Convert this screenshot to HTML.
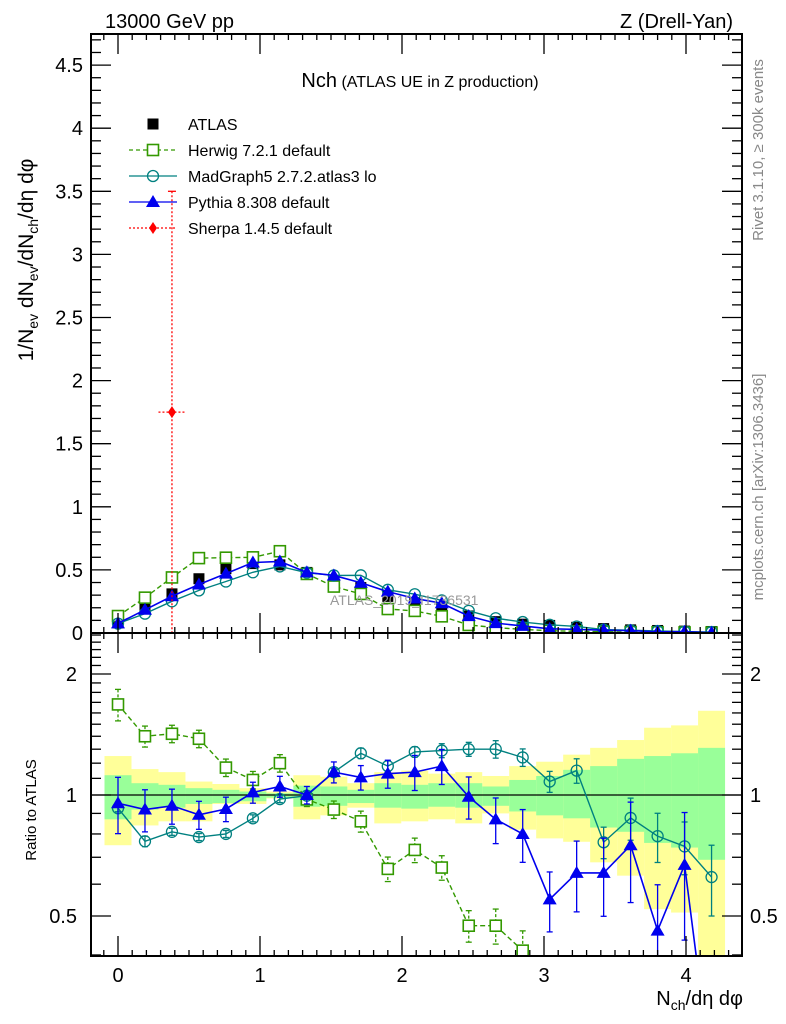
<!DOCTYPE html>
<html><head><meta charset="utf-8">
<style>
html,body{margin:0;padding:0;background:#fff;width:786px;height:1024px;overflow:hidden;}
svg{display:block;font-family:"Liberation Sans",sans-serif;}
</style></head>
<body>
<svg id="chart" width="786" height="1024" viewBox="0 0 786 1024" xmlns="http://www.w3.org/2000/svg">
<g id="bands"></g>
<g id="marks"></g>
<g id="axes"></g>
<text x="105" y="28" font-size="20">13000 GeV pp</text>
<text x="733" y="28" font-size="20" text-anchor="end">Z (Drell-Yan)</text>
<text x="420" y="87" text-anchor="middle"><tspan font-size="20">Nch</tspan><tspan font-size="16"> (ATLAS UE in Z production)</tspan></text>
<text x="330" y="605" font-size="14" fill="#999">ATLAS_2019_I1736531</text>
<text transform="translate(763,150) rotate(-90)" font-size="15" fill="#888" text-anchor="middle">Rivet 3.1.10, ≥ 300k events</text>
<text transform="translate(763,487) rotate(-90)" font-size="15" fill="#888" text-anchor="middle">mcplots.cern.ch [arXiv:1306.3436]</text>
<text transform="translate(33,260) rotate(-90)" font-size="21" text-anchor="middle">1/N<tspan font-size="14" dy="5">ev</tspan><tspan dy="-5"> dN</tspan><tspan font-size="14" dy="5">ev</tspan><tspan dy="-5">/dN</tspan><tspan font-size="14" dy="5">ch</tspan><tspan dy="-5">/dη dφ</tspan></text>
<text transform="translate(36,810) rotate(-90)" font-size="15" text-anchor="middle">Ratio to ATLAS</text>
<text x="743" y="1005" font-size="20" text-anchor="end">N<tspan font-size="14" dy="5">ch</tspan><tspan dy="-5">/dη dφ</tspan></text>
<g id="legend"></g>
</svg>
<script>
const xs = [0,0.19,0.38,0.57,0.76,0.95,1.14,1.33,1.52,1.71,1.90,2.09,2.28,2.47,2.66,2.85,3.04,3.23,3.42,3.61,3.80,3.99,4.18];
const atlas = [0.08,0.20,0.31,0.43,0.51,0.55,0.54,0.48,0.40,0.36,0.29,0.24,0.20,0.135,0.09,0.07,0.06,0.045,0.035,0.025,0.02,0.015,0.012];
const herwigRatio = [1.68,1.40,1.42,1.38,1.17,1.09,1.20,0.975,0.92,0.86,0.655,0.73,0.66,0.473,0.473,0.41,0.3,0.3,0.3,0.3,0.3,0.3,0.3];
const herwigErr = [0.09,0.06,0.05,0.05,0.05,0.05,0.05,0.04,0.05,0.06,0.07,0.07,0.07,0.09,0.1,0.12,0.1,0.1,0.1,0.1,0.1,0.1,0.1];
const madgraphRatio = [0.927,0.767,0.81,0.786,0.80,0.875,0.977,0.996,1.14,1.27,1.18,1.28,1.29,1.30,1.30,1.24,1.08,1.15,0.763,0.877,0.79,0.745,0.625];
const madgraphErr = [0.02,0.03,0.02,0.02,0.02,0.02,0.02,0.02,0.02,0.03,0.03,0.03,0.04,0.04,0.05,0.05,0.06,0.07,0.09,0.12,0.14,0.15,0.2];
const pythiaRatio = [0.954,0.92,0.94,0.893,0.923,1.015,1.05,1.0,1.14,1.106,1.13,1.14,1.18,0.99,0.87,0.80,0.55,0.64,0.64,0.75,0.46,0.67,0.2];
const pythiaErr = [0.16,0.12,0.1,0.08,0.07,0.06,0.06,0.05,0.06,0.07,0.08,0.1,0.1,0.12,0.13,0.15,0.17,0.2,0.22,0.28,0.3,0.35,0.3];
const yellowHi = [1.25,1.16,1.14,1.08,1.065,1.04,1.02,1.12,1.11,1.07,1.14,1.15,1.13,1.14,1.115,1.18,1.21,1.26,1.31,1.37,1.47,1.49,1.62];
const yellowLo = [0.75,0.84,0.86,0.86,0.95,0.95,0.98,0.87,0.89,0.93,0.85,0.86,0.87,0.85,0.9,0.82,0.78,0.765,0.68,0.63,0.52,0.51,0.33];
const greenHi = [1.12,1.07,1.06,1.04,1.03,1.02,1.01,1.055,1.05,1.03,1.07,1.06,1.07,1.07,1.05,1.09,1.115,1.155,1.18,1.23,1.25,1.27,1.31];
const greenLo = [0.87,0.92,0.93,0.95,0.955,0.965,0.985,0.935,0.94,0.955,0.93,0.925,0.935,0.93,0.94,0.91,0.89,0.875,0.83,0.81,0.76,0.74,0.69];
const sherpaX = [0.38];
const sherpaY = [1.75];
const sherpaErrHi = [3.5];
const sherpaErrLo = [0];
const mainTicks = [0,0.5,1,1.5,2,2.5,3,3.5,4,4.5];
const mainTickLabels = ["0","0.5","1","1.5","2","2.5","3","3.5","4","4.5"];
const xTicks = [0,1,2,3,4];
const xTickLabels = ["0","1","2","3","4"];
const ratioTicks = [0.5,1,2];
const ratioTickLabels = ["0.5","1","2"];

const L=91,R=742,T=34,MB=633,RB=956;
const X0=118,XS=142;
const sx=v=>X0+v*XS;
const sy=v=>MB-v*126.2;
const sr=v=>795-Math.log10(v)*402;
const NS="http://www.w3.org/2000/svg";
function mk(parent,tag,attrs){const e=document.createElementNS(NS,tag);for(const k in attrs)e.setAttribute(k,attrs[k]);parent.appendChild(e);return e;}
const bands=document.getElementById('bands'),marks=document.getElementById('marks'),axes=document.getElementById('axes');

const defs=mk(document.getElementById('chart'),'defs',{});
const c1=mk(defs,'clipPath',{id:'cmain'});mk(c1,'rect',{x:L,y:T,width:R-L,height:MB-T});
const c2=mk(defs,'clipPath',{id:'cratio'});mk(c2,'rect',{x:L,y:MB,width:R-L,height:RB-MB});
bands.setAttribute('clip-path','url(#cratio)');
const hw=0.095;
for(let i=0;i<xs.length;i++){
  const a=mk(bands,'rect',{x:sx(xs[i]-hw),y:sr(yellowHi[i]),width:hw*2*XS,height:sr(yellowLo[i])-sr(yellowHi[i]),fill:'#ffff99'});
  
  
}
for(let i=0;i<xs.length;i++){
  const a=mk(bands,'rect',{x:sx(xs[i]-hw),y:sr(greenHi[i]),width:hw*2*XS,height:sr(greenLo[i])-sr(greenHi[i]),fill:'#99ff99'});
  
  
}
mk(bands,'line',{x1:L,x2:R,y1:sr(1),y2:sr(1),stroke:'#000','stroke-width':1.3});

function marker(g,type,cx,cy,color){
  if(type==='sq') return mk(g,'rect',{x:cx-5.5,y:cy-5.5,width:11,height:11,fill:'#fff',stroke:color,'stroke-width':1.6});
  if(type==='circ') return mk(g,'circle',{cx:cx,cy:cy,r:5.5,fill:'none',stroke:color,'stroke-width':1.3});
  if(type==='tri') return mk(g,'polygon',{points:`${cx},${cy-7} ${cx-7},${cy+5} ${cx+7},${cy+5}`,fill:color});
  if(type==='box') return mk(g,'rect',{x:cx-5.5,y:cy-5.5,width:11,height:11,fill:color});
  if(type==='dia') return mk(g,'polygon',{points:`${cx},${cy-6} ${cx+4},${cy} ${cx},${cy+6} ${cx-4},${cy}`,fill:color});
}
function series(name,ratio,err,color,type,dash,sw){
  const gm=mk(marks,'g',{'clip-path':'url(#cmain)'});
  
  
  const gr=mk(marks,'g',{'clip-path':'url(#cratio)'});
  
  
  const pm=xs.map((x,i)=>sx(x)+','+sy(atlas[i]*ratio[i])).join(' ');
  const pr=xs.map((x,i)=>sx(x)+','+sr(ratio[i])).join(' ');
  const st={fill:'none',stroke:color,'stroke-width':sw};if(dash)st['stroke-dasharray']=dash;
  mk(gm,'polyline',Object.assign({points:pm},st));
  mk(gr,'polyline',Object.assign({points:pr},st));
  for(let i=0;i<xs.length;i++){
    const cx=sx(xs[i]);
    const hi=sr(ratio[i]*(1+err[i])),lo=sr(Math.max(0.01,ratio[i]*(1-err[i])));
    const es={stroke:color,'stroke-width':1.3};if(dash)es['stroke-dasharray']='3,2';
    mk(gr,'line',Object.assign({x1:cx,x2:cx,y1:hi,y2:lo},es));
    mk(gr,'line',{x1:cx-3,x2:cx+3,y1:hi,y2:hi,stroke:color,'stroke-width':1.3});
    mk(gr,'line',{x1:cx-3,x2:cx+3,y1:lo,y2:lo,stroke:color,'stroke-width':1.3});
    const m1=marker(gm,type,cx,sy(atlas[i]*ratio[i]),color);
    
    
    const m2=marker(gr,type,cx,sr(ratio[i]),color);
    
    
  }
}
const ga=mk(marks,'g',{'clip-path':'url(#cmain)'});


for(let i=0;i<xs.length;i++){
  const p=marker(ga,'box',sx(xs[i]),sy(atlas[i]),'#000');
  
  
}
series('herwig',herwigRatio,herwigErr,'#339900','sq','5,3',1.4);
series('madgraph',madgraphRatio,madgraphErr,'#008080','circ',null,1.4);
series('pythia',pythiaRatio,pythiaErr,'#0000ee','tri',null,1.6);
const gs=mk(marks,'g',{'clip-path':'url(#cmain)'});


for(let i=0;i<sherpaX.length;i++){
  const cx=sx(sherpaX[i]),cy=sy(sherpaY[i]);
  mk(gs,'line',{x1:cx,x2:cx,y1:sy(sherpaErrHi[i]),y2:sy(sherpaErrLo[i]),stroke:'#ff0000','stroke-width':1.3,'stroke-dasharray':'2,2'});
  mk(gs,'line',{x1:cx-4,x2:cx+4,y1:sy(sherpaErrHi[i]),y2:sy(sherpaErrHi[i]),stroke:'#ff0000','stroke-width':1.3});
  mk(gs,'line',{x1:sx(sherpaX[i]-hw),x2:sx(sherpaX[i]+hw),y1:cy,y2:cy,stroke:'#ff0000','stroke-width':1.3,'stroke-dasharray':'2,2'});
  const d=marker(gs,'dia',cx,cy,'#ff0000');
  
  
}

mk(axes,'rect',{x:L,y:T,width:R-L,height:MB-T,fill:'none',stroke:'#000','stroke-width':2});
mk(axes,'rect',{x:L,y:MB,width:R-L,height:RB-MB,fill:'none',stroke:'#000','stroke-width':2});
for(let k=-2;k<=44;k++){
  const v=k/10,x=sx(v);if(x<L+1||x>R-1)continue;
  const major=(k%10===0);const len=major?20:6;
  for(const [yb,dir] of [[T,1],[MB,-1],[MB,1],[RB,-1]]){
    mk(axes,'line',{x1:x,x2:x,y1:yb,y2:yb+dir*len,stroke:'#000','stroke-width':1.3});
  }
}
xTicks.forEach((v,i)=>{
  const t=mk(axes,'text',{x:sx(v),y:982,'font-size':20,'text-anchor':'middle'});t.textContent=xTickLabels[i];
  
  
});
for(let k=0;k<=47;k++){
  const v=k/10,y=sy(v);if(y<T+1)continue;
  const major=(k%5===0);const len=major?20:10;
  mk(axes,'line',{x1:L,x2:L+len,y1:y,y2:y,stroke:'#000','stroke-width':1.3});
  mk(axes,'line',{x1:R,x2:R-len,y1:y,y2:y,stroke:'#000','stroke-width':1.3});
}
mainTicks.forEach((v,i)=>{
  const t=mk(axes,'text',{x:83,y:sy(v)+7,'font-size':20,'text-anchor':'end'});t.textContent=mainTickLabels[i];
  
  
});
const rmin=[0.4,0.6,0.7,0.8,0.9,1.1,1.2,1.3,1.4,1.5,1.6,1.7,1.8,1.9,2.1,2.2,2.3,2.4,2.5];
rmin.forEach(v=>{const y=sr(v);if(y<MB+1||y>RB-1)return;
  mk(axes,'line',{x1:L,x2:L+10,y1:y,y2:y,stroke:'#000','stroke-width':1.3});
  mk(axes,'line',{x1:R,x2:R-10,y1:y,y2:y,stroke:'#000','stroke-width':1.3});});
ratioTicks.forEach((v,i)=>{const y=sr(v);
  mk(axes,'line',{x1:L,x2:L+20,y1:y,y2:y,stroke:'#000','stroke-width':1.3});
  mk(axes,'line',{x1:R,x2:R-20,y1:y,y2:y,stroke:'#000','stroke-width':1.3});
  const t=mk(axes,'text',{x:77,y:y+7,'font-size':20,'text-anchor':'end'});t.textContent=ratioTickLabels[i];
  
  
  const t2=mk(axes,'text',{x:750,y:y+7,'font-size':20});t2.textContent=ratioTickLabels[i];
  
  
});
const lg=document.getElementById('legend');
const entries=[['ATLAS','box','#000',null,false],['Herwig 7.2.1 default','sq','#339900','4,3',true],['MadGraph5 2.7.2.atlas3 lo','circ','#008080',null,true],['Pythia 8.308 default','tri','#0000ee',null,true],['Sherpa 1.4.5 default','dia','#ff0000','2,2',true]];
entries.forEach((e,i)=>{
  const y=124+i*26;
  const g=mk(lg,'g',{});
  
  
  if(e[4]){const st={x1:129,x2:177,y1:y,y2:y,stroke:e[2],'stroke-width':1.3};if(e[3])st['stroke-dasharray']=e[3];mk(g,'line',st);}
  marker(g,e[1],153,y,e[2]);
  const t=mk(g,'text',{x:188,y:y+6,'font-size':16});t.textContent=e[0];
});
</script>
</body></html>
